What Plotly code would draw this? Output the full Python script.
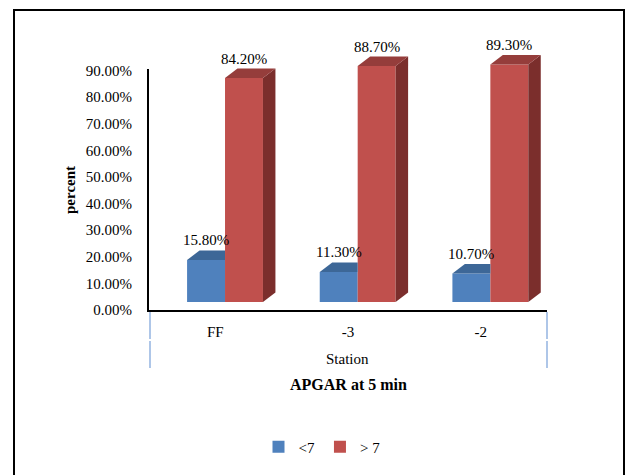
import plotly.graph_objects as go

# ---- data -------------------------------------------------------------
stations = ["FF", "-3", "-2"]
below_7 = [15.8, 11.3, 10.7]      # APGAR < 7 (%)
above_7 = [84.2, 88.7, 89.3]      # APGAR > 7 (%)
series_names = ["<7", "> 7"]
y_ticks = [0, 10, 20, 30, 40, 50, 60, 70, 80, 90]
y_tick_text = [f"{t:.2f}%" for t in y_ticks]

# ---- page geometry (pixels) --------------------------------------------
W, H = 626, 475
L, R, T, B = 149, 79, 30, 155
PLOT_W = W - L - R
PLOT_H = H - T - B
PX_PER_PCT = 2.66
AXIS_BOTTOM_PX = 310     # horizontal axis line
AXIS_TOP_PX = 69         # top of vertical axis line
FLOOR_PX = 302           # base of the bar front faces (3D floor)


def paper_x(px):
    return (px - L) / PLOT_W


def paper_y(py):
    return (H - B - py) / PLOT_H


# bar shape in x-axis units (one category = 1 unit)
BAR_W = 0.286
OFFSETS = [-0.213, 0.073]
DEPTH_X = 0.094                 # 3D depth, horizontal
DEPTH_Y = 9.5 / PX_PER_PCT      # 3D depth, vertical (percent units)

FRONT = ["#4f81bd", "#c0504d"]
TOP = ["#3d6797", "#953d3b"]
SIDE = ["#2f5078", "#7b2e2c"]

FONT = "Liberation Serif"
x_pos = list(range(len(stations)))

fig = go.Figure()

# invisible anchor trace so the percent axis (x/y subplot) is drawn
fig.add_trace(go.Scatter(
    x=[x_pos[0]], y=[y_ticks[0]], mode="markers",
    marker=dict(opacity=0, size=1), showlegend=False, hoverinfo="skip",
    xaxis="x", yaxis="y",
))

# front faces
for s, vals in enumerate([below_7, above_7]):
    fig.add_trace(go.Bar(
        x=x_pos, y=vals, base=0, width=BAR_W, offset=OFFSETS[s],
        marker=dict(color=FRONT[s], line=dict(width=0)),
        name=series_names[s], xaxis="x", yaxis="y2", hoverinfo="skip",
    ))

# top and side faces
for s, vals in enumerate([below_7, above_7]):
    for i, v in enumerate(vals):
        x0 = x_pos[i] + OFFSETS[s]
        x1 = x0 + BAR_W
        if s == 0:
            # right part of the first series' top is hidden behind the second bar
            tx = [x0, x1, x1, x0 + DEPTH_X, x0]
            ty = [v, v, v + DEPTH_Y, v + DEPTH_Y, v]
        else:
            tx = [x0, x1, x1 + DEPTH_X, x0 + DEPTH_X, x0]
            ty = [v, v, v + DEPTH_Y, v + DEPTH_Y, v]
            fig.add_trace(go.Scatter(
                x=[x1, x1 + DEPTH_X, x1 + DEPTH_X, x1, x1],
                y=[0, DEPTH_Y, v + DEPTH_Y, v, 0],
                mode="lines", fill="toself", fillcolor=SIDE[s],
                line=dict(width=0), showlegend=False, hoverinfo="skip",
                xaxis="x", yaxis="y2",
            ))
        fig.add_trace(go.Scatter(
            x=tx, y=ty, mode="lines", fill="toself", fillcolor=TOP[s],
            line=dict(width=0), showlegend=False, hoverinfo="skip",
            xaxis="x", yaxis="y2",
        ))

# value labels
annotations = []
for s, vals in enumerate([below_7, above_7]):
    for i, v in enumerate(vals):
        annotations.append(dict(
            x=x_pos[i] + OFFSETS[s] + BAR_W / 2, y=v + DEPTH_Y,
            xref="x", yref="y2", text=f"{v:.2f}%", showarrow=False,
            yanchor="bottom", xanchor="center",
            font=dict(family=FONT, size=15, color="#000000"),
        ))

annotations += [
    dict(x=paper_x(70), y=paper_y(190), xref="paper", yref="paper",
         xanchor="center", yanchor="middle",
         text="percent", textangle=-90, showarrow=False,
         font=dict(family=FONT, size=15, color="#000000", weight="bold")),
    dict(x=paper_x(347), y=paper_y(359), xref="paper", yref="paper",
         xanchor="center", yanchor="middle",
         text="Station", showarrow=False,
         font=dict(family=FONT, size=15, color="#000000")),
    dict(x=paper_x(348), y=paper_y(384), xref="paper", yref="paper",
         xanchor="center", yanchor="middle",
         text="APGAR at 5 min", showarrow=False,
         font=dict(family=FONT, size=16, color="#000000", weight="bold")),
]

# outer frame and light floor lines under the category axis
shapes = [
    dict(type="rect", xref="paper", yref="paper",
         x0=paper_x(14), x1=paper_x(624), y0=paper_y(10), y1=paper_y(490),
         line=dict(color="#000000", width=2), fillcolor="rgba(0,0,0,0)"),
]
for px in (150, 547):
    for y0, y1 in ((312, 339), (341, 368)):
        shapes.append(dict(type="line", xref="paper", yref="paper",
                           x0=paper_x(px), x1=paper_x(px),
                           y0=paper_y(y0), y1=paper_y(y1),
                           line=dict(color="#aec6e8", width=2)))

fig.update_layout(
    width=W, height=H,
    margin=dict(l=L, r=R, t=T, b=B),
    paper_bgcolor="white", plot_bgcolor="rgba(0,0,0,0)",
    barmode="overlay",
    font=dict(family=FONT, size=15, color="#000000"),
    xaxis=dict(
        range=[-0.5, 2.5], tickvals=x_pos, ticktext=stations,
        showline=True, linecolor="#000000", linewidth=2,
        showgrid=False, zeroline=False, ticks="", anchor="y",
        ticklabelstandoff=7,
        tickfont=dict(family=FONT, size=15, color="#000000"),
    ),
    yaxis=dict(
        domain=[paper_y(AXIS_BOTTOM_PX), paper_y(AXIS_TOP_PX)],
        range=[0, (AXIS_BOTTOM_PX - AXIS_TOP_PX) / PX_PER_PCT],
        tickvals=y_ticks, ticktext=y_tick_text,
        showline=True, linecolor="#000000", linewidth=2,
        showgrid=False, zeroline=False, ticks="", anchor="x",
        ticklabelstandoff=12,
        tickfont=dict(family=FONT, size=15, color="#000000"),
    ),
    yaxis2=dict(
        domain=[0, 1], anchor="x", visible=False,
        range=[-(H - B - FLOOR_PX) / PX_PER_PCT, (FLOOR_PX - T) / PX_PER_PCT],
    ),
    legend=dict(
        orientation="h", x=paper_x(322), xanchor="center",
        y=paper_y(447), yanchor="middle",
        font=dict(family=FONT, size=15, color="#000000"),
        itemwidth=30,
    ),
    annotations=annotations,
    shapes=shapes,
    hovermode=False,
)

fig.write_html("out.html")
